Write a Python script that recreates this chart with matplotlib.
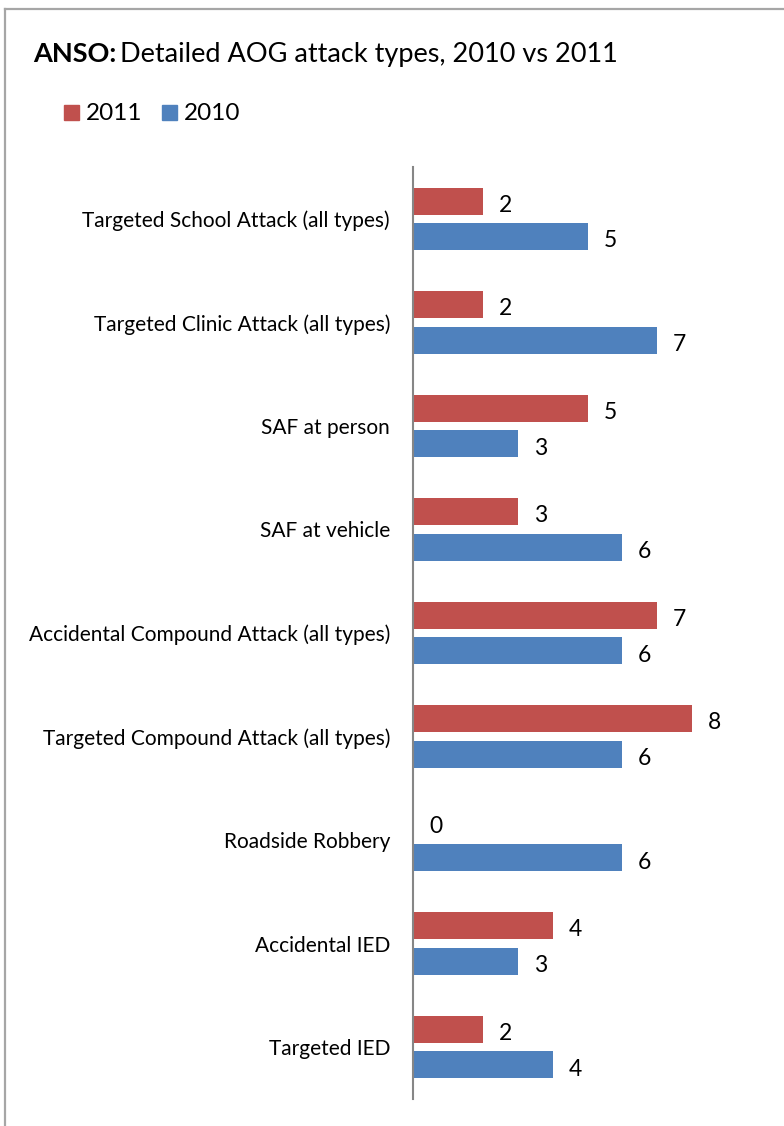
import matplotlib
matplotlib.use("Agg")
import matplotlib.pyplot as plt
from matplotlib.lines import Line2D
from matplotlib.patches import Rectangle
import numpy as np

plt.rcParams['font.family'] = ['Lato', 'DejaVu Sans']

categories = [
    "Targeted School Attack (all types)",
    "Targeted Clinic Attack (all types)",
    "SAF at person",
    "SAF at vehicle",
    "Accidental Compound Attack (all types)",
    "Targeted Compound Attack (all types)",
    "Roadside Robbery",
    "Accidental IED",
    "Targeted IED",
]
values_2011 = [2, 2, 5, 3, 7, 8, 0, 4, 2]
values_2010 = [5, 7, 3, 6, 6, 6, 6, 3, 4]

RED = "#C0504D"
BLUE = "#4F81BD"

W, H = 784, 1126
fig = plt.figure(figsize=(W / 100, H / 100), dpi=100)

# chart frame (top and left edges visible)
frame_col = "#A6A6A6"
fig.add_artist(Line2D([5 / W, 1.0], [1 - 9 / H, 1 - 9 / H], transform=fig.transFigure,
                      color=frame_col, lw=1.6))
fig.add_artist(Line2D([5 / W, 5 / W], [1 - 9 / H, 0.0], transform=fig.transFigure,
                      color=frame_col, lw=1.6))

ax = fig.add_axes([413 / W, 1 - 1099 / H, 349 / W, (1099 - 167) / H])

y = np.arange(len(categories))
off = 0.171
h = 0.26
ax.barh(y - off, values_2011, height=h, color=RED, label="2011")
ax.barh(y + off, values_2010, height=h, color=BLUE, label="2010")

ax.set_xlim(0, 10)
ax.set_ylim(len(categories) - 0.5, -0.5)

for spine in ("top", "right", "bottom"):
    ax.spines[spine].set_visible(False)
ax.spines["left"].set_color("#868686")
ax.spines["left"].set_linewidth(1.5)
ax.set_xticks([])
ax.set_yticks(y)
ax.set_yticklabels(categories, fontsize=15)
ax.tick_params(axis="y", length=0, pad=16.5)

for yi, v in zip(y, values_2011):
    ax.annotate(str(v), (v, yi - off), xytext=(22.5, -4), textcoords="offset pixels",
                ha="center", va="center", fontsize=16.5)
for yi, v in zip(y, values_2010):
    ax.annotate(str(v), (v, yi + off), xytext=(22.5, -4.5), textcoords="offset pixels",
                ha="center", va="center", fontsize=16.5)

# title: bold lead-in followed by regular text
t1 = fig.text(33 / W, 1 - 62 / H, "ANSO:", fontsize=19.5, fontweight="bold", va="baseline")
fig.canvas.draw()
bb = t1.get_window_extent()
fig.text(bb.x1 / W + 4 / W, 1 - 62 / H, "Detailed AOG attack types, 2010 vs 2011",
         fontsize=19.5, va="baseline")

# legend
for x0, col, lab in ((64, RED, "2011"), (162, BLUE, "2010")):
    fig.add_artist(Rectangle((x0 / W, 1 - 120 / H), 15 / W, 15 / H,
                             transform=fig.transFigure, color=col))
    fig.text((x0 + 22) / W, 1 - 113 / H, lab, fontsize=17.5, va="center")

fig.savefig("out.png", dpi=100)
